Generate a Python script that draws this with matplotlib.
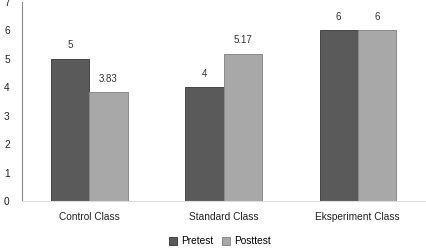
import matplotlib
matplotlib.use('Agg')
import matplotlib.pyplot as plt
import numpy as np

clases = ['Control Class', 'Standard Class', 'Eksperiment Class']
pretest = [5, 4, 6]
posttest = [3.83, 5.17, 6]
etiquetas_pre = ['5', '4', '6']
etiquetas_post = ['3.83', '5.17', '6']

plt.rcParams['font.family'] = ['Liberation Sans', 'DejaVu Sans']

fig = plt.figure(figsize=(4.27, 2.5), dpi=100)
ax = fig.add_axes([0.052, 0.196, 0.943, 0.796])

x = np.arange(len(clases))
ancho = 0.285

# Barras
b1 = ax.bar(x - ancho / 2, pretest, ancho, color='#5a5a5a', edgecolor='#444444', linewidth=0.7, label='Pretest')
b2 = ax.bar(x + ancho / 2, posttest, ancho, color='#a8a8a8', edgecolor='#8a8a8a', linewidth=0.7, label='Posttest')

# Etiquetas de valores
for barra, txt in zip(b1, etiquetas_pre):
    ax.text(barra.get_x() + barra.get_width() / 2, barra.get_height() + 0.3, txt,
            ha='center', va='bottom', fontsize=7, color='#333333')
for barra, txt in zip(b2, etiquetas_post):
    ax.text(barra.get_x() + barra.get_width() / 2, barra.get_height() + 0.3, txt,
            ha='center', va='bottom', fontsize=7, color='#333333')

ax.set_xlim(-0.5, 2.5)
ax.set_ylim(0, 7)
ax.set_yticks(range(0, 8))
ax.set_xticks(x)
ax.set_xticklabels(clases)
ax.tick_params(axis='both', length=0, labelsize=7.3, colors='#222222')
ax.tick_params(axis='x', pad=8)
ax.tick_params(axis='y', pad=9)

for lado in ['top', 'right']:
    ax.spines[lado].set_visible(False)
ax.spines['left'].set_color('#888888')
ax.spines['left'].set_linewidth(0.8)
ax.spines['bottom'].set_color('#dddddd')
ax.spines['bottom'].set_linewidth(0.8)

fig.legend(loc='center', bbox_to_anchor=(0.515, 0.035), ncol=2, frameon=False,
           fontsize=7.3, handlelength=0.8, handleheight=0.8, handletextpad=0.4,
           columnspacing=0.8)

plt.savefig('out.png', dpi=100)
